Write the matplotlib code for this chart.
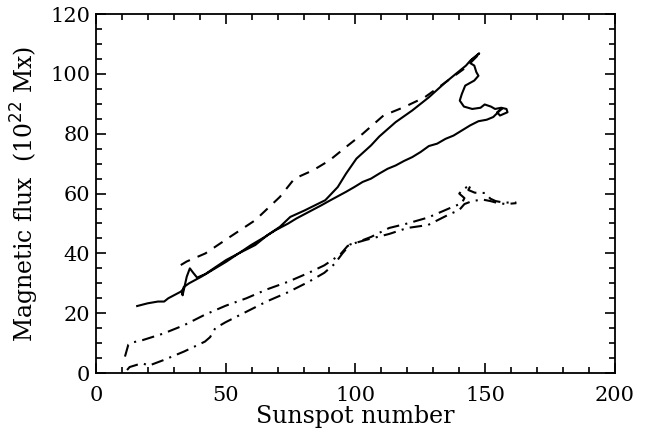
import matplotlib
matplotlib.use("Agg")
import matplotlib.pyplot as plt
from matplotlib.ticker import MultipleLocator

# solid curve: rises along the upper branch, loops at the top, comes back down
solid_x = [15.9, 19.9, 23.9, 26.3, 27.9, 32.7, 33.6, 33.4, 35.0, 36.2, 37.5, 39.0,
           42.2, 45.4, 50.2, 55.0, 61.4, 66.1, 70.9, 74.9, 80.5, 88.4, 93.2, 96.4,
           100.4, 106.0, 109.2, 115.5, 121.9, 128.3, 134.7, 137.8, 142.6, 144.2,
           147.7, 144.9, 144.3, 145.8, 146.6, 147.4, 145.8, 142.3, 141.0, 140.2,
           141.8, 145.0, 148.2, 149.8, 152.2, 153.8, 156.2, 158.2, 158.6, 155.7,
           154.6, 156.5, 153.1, 150.6, 147.4, 144.2, 141.0, 137.8, 134.7, 131.5,
           128.3, 125.1, 121.9, 118.7, 115.5, 112.4, 109.2, 106.0, 102.8, 99.6,
           96.4, 93.2, 90.0, 86.9, 82.1, 77.3, 74.1, 69.3, 64.5, 59.8, 55.0, 50.2,
           45.4, 40.6, 35.9, 33.8, 33.2]
solid_y = [22.4, 23.3, 23.9, 23.9, 25.0, 27.2, 28.0, 26.0, 32.2, 35.0, 33.5, 31.9,
           33.1, 35.0, 37.8, 40.0, 42.8, 46.1, 48.9, 52.2, 54.4, 57.8, 62.2, 66.7,
           71.7, 76.1, 79.1, 83.9, 87.8, 92.2, 97.2, 99.4, 102.8, 104.4,
           106.9, 104.8, 103.6, 102.8, 100.6, 99.4, 97.8, 96.1, 93.3, 91.1,
           89.1, 88.3, 88.7, 89.8, 89.1, 88.3, 88.7, 88.3, 87.2, 86.1,
           87.2, 88.5, 85.6, 84.7, 84.2, 82.8, 81.1, 79.4, 78.3, 76.7,
           75.9, 73.9, 72.2, 70.9, 69.4, 68.3, 66.7, 65.0, 63.9, 62.2,
           60.6, 59.1, 57.6, 56.1, 53.9, 51.7, 50.0, 47.8, 45.2, 42.8, 40.0, 37.2,
           34.7, 32.2, 30.0, 28.7, 26.5]

dashed_x = [32.7, 35.0, 42.2, 51.8, 61.4, 70.9, 76.5, 83.7, 90.0, 96.4, 102.8,
            110.8, 118.7, 126.7, 134.7, 142.6, 147.5]
dashed_y = [36.1, 37.3, 40.0, 45.6, 51.1, 58.9, 65.0, 67.8, 71.1, 75.6, 80.0,
            86.1, 88.9, 92.2, 97.2, 102.2, 106.5]

dashdot1_x = [11.2, 12.5, 14.0, 18.0, 26.0, 34.0, 42.0, 50.0, 58.0, 66.0, 74.0,
              82.0, 88.0, 94.0, 97.0, 100.0, 106.0, 113.0, 120.0, 128.0, 136.0,
              141.0, 142.0, 140.0, 141.5, 144.5, 143.5, 146.0, 150.0, 152.0,
              154.0, 157.0, 162.0]
dashdot1_y = [5.5, 9.5, 10.2, 11.0, 13.2, 16.0, 19.5, 22.5, 25.0, 28.0, 30.5,
              33.5, 36.0, 39.5, 42.5, 43.5, 45.5, 48.5, 50.0, 52.0, 55.0,
              56.8, 58.5, 60.0, 61.5, 62.9, 61.2, 60.3, 60.2, 58.3,
              57.5, 57.0, 57.0]

dashdot2_x = [12.0, 13.0, 16.0, 18.0, 20.5, 26.0, 34.0, 42.0, 44.0, 46.0, 50.0,
              58.0, 66.0, 74.0, 82.0, 88.0, 92.0, 95.0, 98.0, 104.0, 113.0,
              120.0, 128.0, 136.0, 140.0, 142.0, 145.0, 149.0, 152.0, 155.0,
              158.0, 162.0]
dashdot2_y = [1.0, 2.0, 2.8, 3.2, 2.5, 4.3, 7.2, 10.5, 12.0, 15.0, 17.0,
              20.5, 24.0, 27.0, 30.5, 33.5, 36.5, 40.0, 43.0, 44.5, 46.5,
              48.5, 49.5, 53.0, 54.5, 56.5, 57.5, 58.0, 57.5, 56.8,
              56.5, 56.8]

x_ticks = [0, 50, 100, 150, 200]
y_ticks = [0, 20, 40, 60, 80, 100, 120]

plt.rcParams['font.family'] = ['DejaVu Serif']

fig = plt.figure(figsize=(6.48, 4.29), dpi=100)
ax = fig.add_axes([0.148, 0.1305, 0.801, 0.8365])

ax.plot(solid_x, solid_y, color='black', lw=1.5, ls='-')
ax.plot(dashed_x, dashed_y, color='black', lw=1.5, ls=(0, (5, 4)))
ax.plot(dashdot1_x, dashdot1_y, color='black', lw=1.5, ls=(0, (6, 3, 1, 3)))
ax.plot(dashdot2_x, dashdot2_y, color='black', lw=1.5, ls=(0, (6, 3, 1, 3)))

ax.set_xlim(0, 200)
ax.set_ylim(0, 120)
ax.set_xticks(x_ticks)
ax.set_yticks(y_ticks)
ax.xaxis.set_minor_locator(MultipleLocator(10))
ax.yaxis.set_minor_locator(MultipleLocator(5))
ax.tick_params(which='both', direction='in', top=True, right=True,
               labelsize=15, width=1.2)
ax.tick_params(which='major', length=7)
ax.tick_params(which='minor', length=4)
ax.tick_params(axis='x', which='major', pad=9)
ax.tick_params(axis='y', which='major', pad=4)
for s in ax.spines.values():
    s.set_linewidth(1.3)

ax.set_xlabel('Sunspot number', fontsize=17, labelpad=0)
ax.set_ylabel('Magnetic flux  (10$^{22}$ Mx)', fontsize=17, labelpad=7)

fig.savefig('out.png', dpi=100)
